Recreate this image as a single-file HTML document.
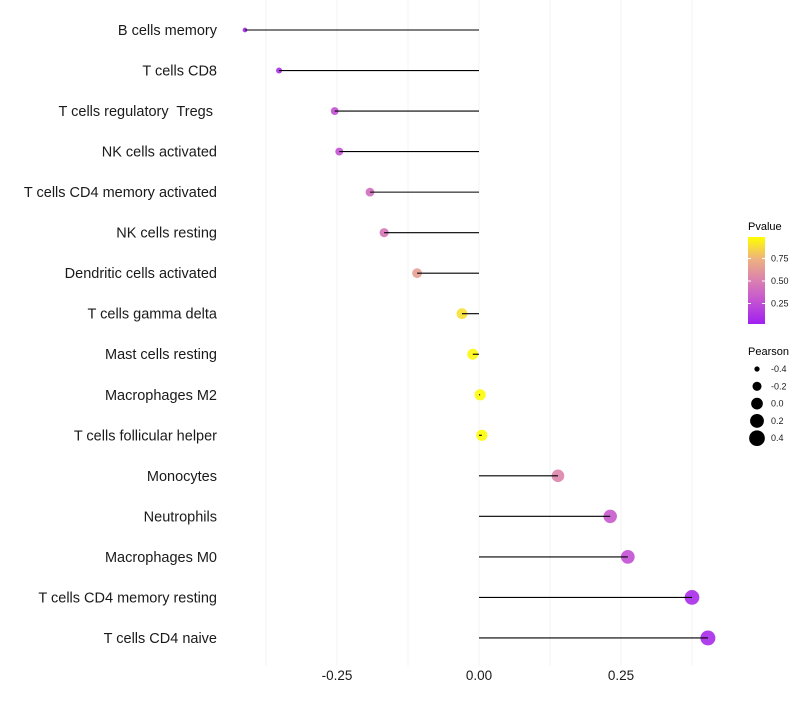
<!DOCTYPE html>
<html><head><meta charset="utf-8"><style>
body{margin:0;background:#fff;font-family:"Liberation Sans",sans-serif}
svg text{font-family:"Liberation Sans",sans-serif;white-space:pre}
</style></head><body>
<svg id="chart" width="800" height="700" xmlns="http://www.w3.org/2000/svg">
<defs><linearGradient id="pg" x1="0" y1="1" x2="0" y2="0">
<stop offset="0" stop-color="#a020f0"/><stop offset="0.25" stop-color="#c250d4"/><stop offset="0.5" stop-color="#da80b0"/><stop offset="0.75" stop-color="#eeb27e"/><stop offset="1" stop-color="#ffff00"/></linearGradient></defs>
<g id="grid"></g>
<g id="marks"></g>
<g id="ylab"></g>
<g id="xlab"></g>
<g>
<text x="748" y="230" font-size="11">Pvalue</text>
<rect x="748" y="237" width="17" height="87" fill="url(#pg)"/>
<g id="cbticks"></g>
</g>
<g id="sizeleg">
<text x="748" y="355" font-size="11">Pearson</text>
</g>
</svg>
<script>
const categories=["B cells memory","T cells CD8","T cells regulatory  Tregs ","NK cells activated","T cells CD4 memory activated","NK cells resting","Dendritic cells activated","T cells gamma delta","Mast cells resting","Macrophages M2","T cells follicular helper","Monocytes","Neutrophils","Macrophages M0","T cells CD4 memory resting","T cells CD4 naive"];
const pearson=[-0.412,-0.352,-0.254,-0.246,-0.192,-0.167,-0.109,-0.030,-0.011,0.002,0.005,0.139,0.231,0.262,0.375,0.403];
const pvalues=[0.03,0.08,0.25,0.26,0.4,0.45,0.65,0.9,0.97,0.99,0.99,0.52,0.3,0.25,0.06,0.05];
const xTicks=[-0.25,0,0.25];
const xTickLabels=["-0.25","0.00","0.25"];
const legendP=[0.25,0.5,0.75];
const legendPLabels=["0.25","0.50","0.75"];
const legendSizes=[-0.4,-0.2,0.0,0.2,0.4];
const legendSizeLabels=["-0.4","-0.2","0.0","0.2","0.4"];
const NS="http://www.w3.org/2000/svg";
const x=v=>479+v*568;
const y=i=>30+i*40.53;
const r=v=>Math.sqrt(Math.max(2,31+62*v));
const stops=[[0,[160,32,240]],[0.25,[194,80,212]],[0.5,[218,128,176]],[0.75,[238,178,126]],[1,[255,255,0]]];
function col(p){for(let i=1;i<stops.length;i++){if(p<=stops[i][0]){const a=stops[i-1],b=stops[i],t=(p-a[0])/(b[0]-a[0]);return 'rgb('+a[1].map((c,k)=>Math.round(c+(b[1][k]-c)*t)).join(',')+')';}}return 'rgb(255,255,0)';}
function mk(tag,at,parent){const e=document.createElementNS(NS,tag);for(const k in at)e.setAttribute(k,at[k]);parent.appendChild(e);return e;}
const grid=document.getElementById('grid');
for(let v=-0.375;v<=0.4;v+=0.125){const g=mk('line',{x1:x(v),x2:x(v),y1:0,y2:666,stroke:'#f3f3f3','stroke-width':1},grid);

}
const marks=document.getElementById('marks'),ylab=document.getElementById('ylab');
categories.forEach((c,i)=>{
const c1=mk('circle',{cx:x(pearson[i]),cy:y(i),r:r(pearson[i]),fill:col(pvalues[i]),'fill-opacity':0.9},marks);


const l=mk('line',{x1:x(0),x2:x(pearson[i]),y1:y(i),y2:y(i),stroke:'#000','stroke-width':1.1},marks);


const t=mk('text',{x:217,y:y(i)+5,'text-anchor':'end','font-size':14.5,fill:'#1a1a1a'},ylab);


t.textContent=c;});
const xlab=document.getElementById('xlab');
xTicks.forEach((v,i)=>{const t=mk('text',{x:x(v),y:680,'text-anchor':'middle','font-size':13.5,fill:'#1a1a1a'},xlab);


t.textContent=xTickLabels[i];});
const cb=document.getElementById('cbticks');
legendP.forEach((p,i)=>{const yy=326-p*90;
mk('line',{x1:748,x2:751,y1:yy,y2:yy,stroke:'#fff'},cb);mk('line',{x1:762,x2:765,y1:yy,y2:yy,stroke:'#fff'},cb);
const t=mk('text',{x:771,y:yy+3,'font-size':9,fill:'#1a1a1a'},cb);


t.textContent=legendPLabels[i];});
const sl=document.getElementById('sizeleg');
legendSizes.forEach((v,i)=>{const yy=369+i*17.3;
const c=mk('circle',{cx:757,cy:yy,r:r(v)*1.05,fill:'#000'},sl);


const t=mk('text',{x:771,y:yy+3,'font-size':9,fill:'#1a1a1a'},sl);


t.textContent=legendSizeLabels[i];});
</script>
</body></html>
